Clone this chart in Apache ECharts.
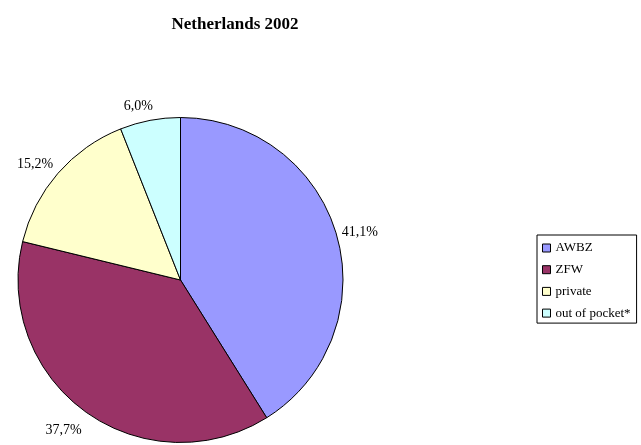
<!DOCTYPE html>
<html>
<head>
<meta charset="utf-8">
<script src="https://cdn.jsdelivr.net/npm/echarts@6/dist/echarts.min.js"></script>
<style>
  html, body { margin: 0; padding: 0; background: #fff; }
  #chart { width: 641px; height: 445px; }
</style>
</head>
<body>
<div id="chart"></div>
<script>
// Health care financing shares, Netherlands 2002 (percent)
const categories = ['AWBZ', 'ZFW', 'private', 'out of pocket*'];
const shares = [41.1, 37.7, 15.2, 6.0];
const colors = ['#9999FF', '#993366', '#FFFFCC', '#CCFFFF'];

const serif = '"Liberation Serif", "DejaVu Serif", serif';

// Unit vector (screen coords) pointing at the middle of each slice,
// clockwise from 12 o'clock.
const total = shares.reduce((a, b) => a + b, 0);
const midDirs = [];
{
  let acc = 0;
  shares.forEach(v => {
    const a = (acc + v / 2) / total * Math.PI * 2;
    midDirs.push([Math.sin(a), -Math.cos(a)]);
    acc += v;
  });
}

const chart = echarts.init(document.getElementById('chart'), null, { renderer: 'canvas' });

chart.setOption({
  animation: false,
  backgroundColor: '#ffffff',
  title: {
    text: 'Netherlands 2002',
    left: 230,
    top: 11,
    textAlign: 'center',
    textStyle: { fontFamily: serif, fontSize: 17, fontWeight: 'bold', color: '#000' }
  },
  legend: {
    orient: 'vertical',
    left: 537,
    top: 235,
    padding: [6, 6, 3, 5],
    borderColor: '#000',
    borderWidth: 1,
    borderRadius: 0,
    itemWidth: 8,
    itemHeight: 8,
    itemGap: 7.7,
    icon: 'rect',
    itemStyle: { borderColor: '#000', borderWidth: 1 },
    textStyle: { fontFamily: serif, fontSize: 13, lineHeight: 14, color: '#000' },
    data: categories
  },
  series: [{
    type: 'pie',
    center: [180.5, 280],
    radius: 162.5,
    startAngle: 90,
    clockwise: true,
    avoidLabelOverlap: false,
    itemStyle: { borderColor: '#000', borderWidth: 1 },
    emphasis: { disabled: true },
    label: {
      show: true,
      position: 'outside',
      fontFamily: serif,
      fontSize: 14,
      color: '#000',
      formatter: p => p.value.toFixed(1).replace('.', ',') + '%'
    },
    labelLine: { show: false, length: 0, length2: 0 },
    // Push labels off the rim the way spreadsheet pies do: further out
    // vertically, and closer to centred over the slice near 12/6 o'clock.
    labelLayout: params => {
      const [ux, uy] = midDirs[params.dataIndex];
      const w = params.labelRect.width;
      const dx = -Math.sign(ux) * (w / 2) * Math.pow(1 - Math.abs(ux), 3);
      const dy = uy * 16 + 2 + Math.max(uy, 0) * 5;
      return { dx, dy };
    },
    data: categories.map((name, i) => ({
      name,
      value: shares[i],
      itemStyle: { color: colors[i] }
    }))
  }]
});
</script>
</body>
</html>
